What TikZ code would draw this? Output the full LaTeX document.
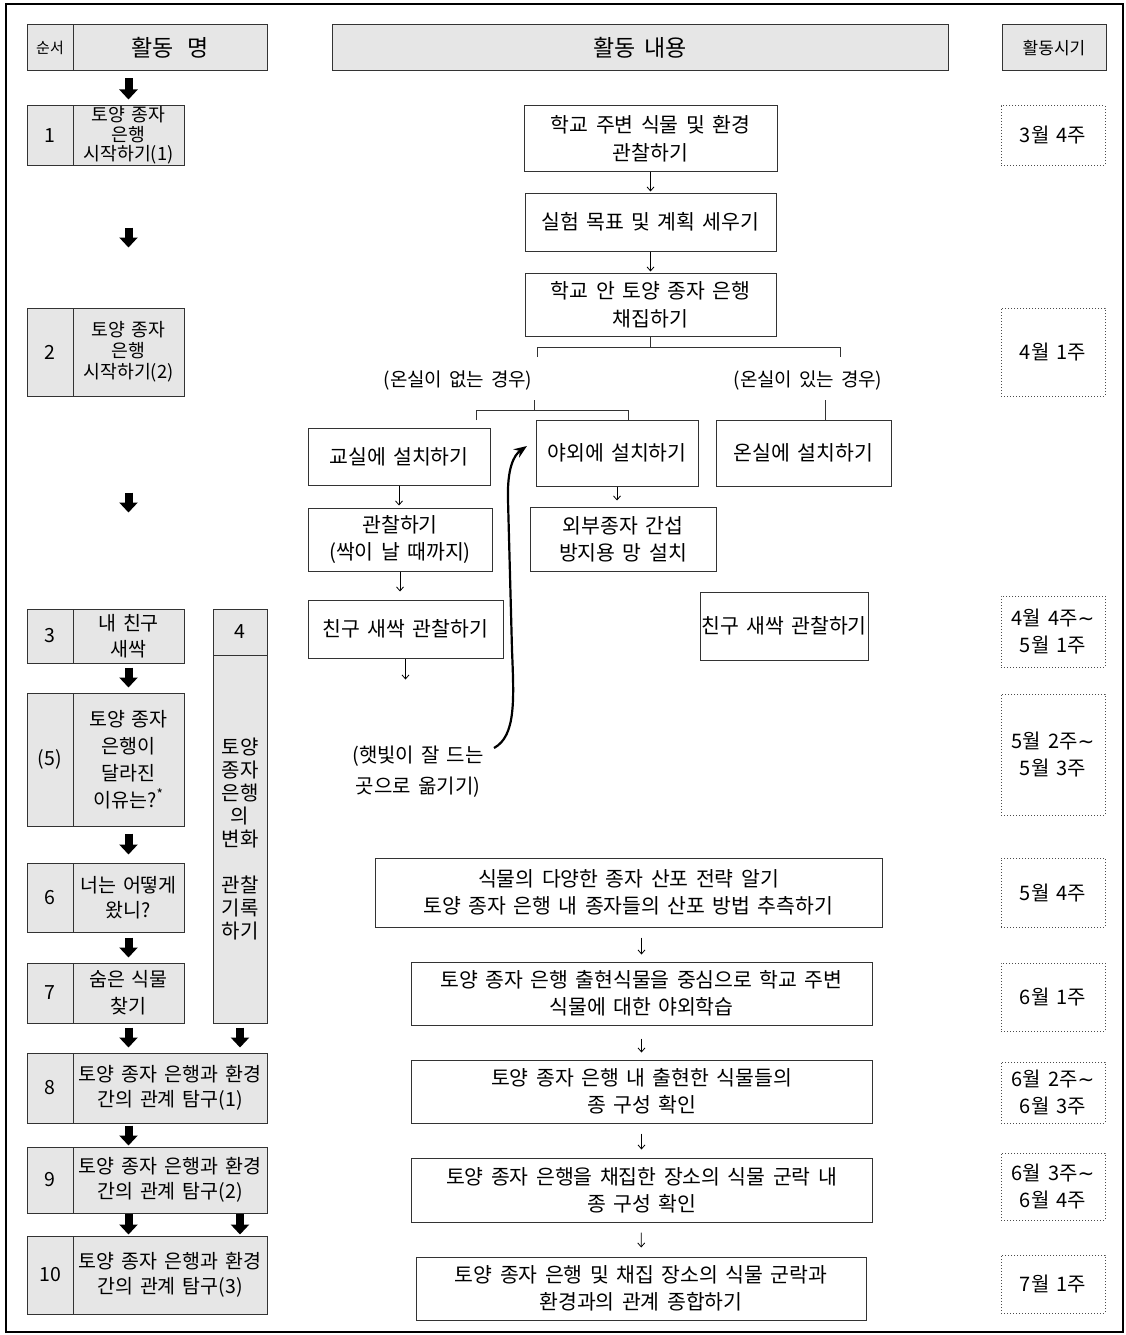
\documentclass[tikz,border=0pt]{standalone}
\usepackage{fontspec}
\setmainfont{Noto Sans CJK KR}[WordSpace=1.6]
\newfontfamily\symf{DejaVu Sans}
\usetikzlibrary{arrows.meta,calc}
\definecolor{cellgray}{RGB}{230,230,230}
\newcommand{\fsz}[2]{\fontsize{#1}{#2}\selectfont}
\newcommand{\wave}{{\symf ∼}}

\begin{document}
\begin{tikzpicture}[x=1pt,y=-1pt,
  cell/.style={draw=black!80,fill=cellgray,line width=1pt,inner sep=0pt,align=center,font=\fsz{19.5}{26}},
  bx/.style={draw=black!80,line width=1pt,inner sep=0pt,align=center,font=\fsz{20.5}{27}},
  dt/.style={draw=black!70,dotted,line width=1pt,inner sep=0pt,align=center,font=\fsz{20}{27},minimum width=104pt},
  blk/.style={line width=8pt,-{Triangle[width=18pt,length=10pt]}},
  thn/.style={line width=0.8pt,-{Straight Barb[length=4pt,width=7pt]}},
  ln/.style={line width=1pt,black!80}]
\useasboundingbox (0,0) rectangle (1126,1335);
\draw[line width=2.5pt] (6,4) rectangle (1123,1332);

% header row
\node[cell,minimum width=46pt,minimum height=46pt,font=\fsz{15}{18}] (n0) at (50,48) {순서};
\node[cell,minimum width=194pt,minimum height=46pt,font=\fsz{23}{26}] (t0) at (170,48) {활동\hspace{5pt} 명};
\node[cell,minimum width=616pt,minimum height=46pt,font=\fsz{23}{26}] (hc) at (640,48) {활동 내용};
\node[cell,minimum width=104pt,minimum height=46pt,font=\fsz{17}{20}] (hd) at (1054,48) {활동시기};

% left column: activity names
\node[cell,minimum width=46pt,minimum height=59pt] (n1) at (50,135.5) {1};
\node[cell,minimum width=111pt,minimum height=59pt,font=\fsz{18.3}{19.5}] (t1) at (128.5,135.5) {토양 종자\\은행\\시작하기(1)};
\node[cell,minimum width=46pt,minimum height=88pt] (n2) at (50,352) {2};
\node[cell,minimum width=111pt,minimum height=88pt,font=\fsz{18.3}{21}] (t2) at (128.5,352) {토양 종자\\은행\\시작하기(2)};
\node[cell,minimum width=46pt,minimum height=54pt] (n3) at (50,636) {3};
\node[cell,minimum width=111pt,minimum height=54pt] (t3) at (128.5,636) {내 친구\\새싹};
\node[cell,minimum width=54pt,minimum height=46pt] (n4) at (240,632) {4};
\node[cell,minimum width=54pt,minimum height=368pt,font=\fsz{20}{23}] (t4) at (240,839) {토양\\종자\\은행\\의\\변화\\[23pt]관찰\\기록\\하기};
\node[cell,minimum width=46pt,minimum height=133pt] (n5) at (50,759.5) {(5)};
\node[cell,minimum width=111pt,minimum height=133pt,font=\fsz{19.5}{27}] (t5) at (128.5,759.5) {토양 종자\\은행이\\달라진\\이유는?\textsuperscript{*}};
\node[cell,minimum width=46pt,minimum height=69pt] (n6) at (50,897.5) {6};
\node[cell,minimum width=111pt,minimum height=69pt,font=\fsz{19.5}{25}] (t6) at (128.5,897.5) {너는 어떻게\\왔니?};
\node[cell,minimum width=46pt,minimum height=60pt] (n7) at (50,993) {7};
\node[cell,minimum width=111pt,minimum height=60pt,font=\fsz{19.5}{27}] (t7) at (128.5,993) {숨은 식물\\찾기};
\node[cell,minimum width=46pt,minimum height=70pt] (n8) at (50,1088) {8};
\node[cell,minimum width=194pt,minimum height=70pt,font=\fsz{19.5}{25}] (t8) at (170,1088) {토양 종자 은행과 환경\\간의 관계 탐구(1)};
\node[cell,minimum width=46pt,minimum height=66pt] (n9) at (50,1180) {9};
\node[cell,minimum width=194pt,minimum height=66pt,font=\fsz{19.5}{25}] (t9) at (170,1180) {토양 종자 은행과 환경\\간의 관계 탐구(2)};
\node[cell,minimum width=46pt,minimum height=78pt] (n10) at (50,1275) {10};
\node[cell,minimum width=194pt,minimum height=78pt,font=\fsz{19.5}{25}] (t10) at (170,1275) {토양 종자 은행과 환경\\간의 관계 탐구(3)};

\draw[blk,shorten <=7pt,shorten >=6pt] (t1.north |- t0.south) -- (t1.north);
\draw[blk,shorten <=62pt,shorten >=60pt] (t1) -- (t2);
\draw[blk,shorten <=96pt,shorten >=96pt] (t2) -- (t3);
\draw[blk,shorten <=4pt,shorten >=5pt] (t3) -- (t5);
\draw[blk,shorten <=7pt,shorten >=8pt] (t5) -- (t6);
\draw[blk,shorten <=5pt,shorten >=5pt] (t6) -- (t7);
\draw[blk,shorten <=4pt,shorten >=5pt] (t7.south) -- (t7.south |- t8.north);
\draw[blk,shorten <=4pt,shorten >=5pt] (t4.south) -- (t4.south |- t8.north);
\draw[blk,shorten <=2pt,shorten >=1pt] (t7.south |- t8.south) -- (t7.south |- t9.north);
\draw[blk,shorten >=1pt] (t7.south |- t9.south) -- (t7.south |- t10.north);
\draw[blk,shorten >=1pt] (t4.south |- t9.south) -- (t4.south |- t10.north);

% middle column: activity contents
\node[bx,minimum width=253pt,minimum height=65pt,font=\fsz{20.5}{28}] (obsA) at (650.5,138.5) {학교 주변 식물 및 환경\\관찰하기};
\node[bx,minimum width=251pt,minimum height=58pt] (plan) at (650.5,222) {실험 목표 및 계획 세우기};
\node[bx,minimum width=251pt,minimum height=63pt,font=\fsz{20.5}{28}] (coll) at (650.5,304.5) {학교 안 토양 종자 은행\\채집하기};
\draw[thn,shorten >=1pt] (obsA) -- (plan);
\draw[thn,shorten >=1pt] (plan) -- (coll);

\node[font=\fsz{19}{26}] (noGH) at (458,381) {(온실이 없는 경우)};
\node[font=\fsz{19}{26}] (yesGH) at (808,381) {(온실이 있는 경우)};
\coordinate (jl) at (537,357);
\coordinate (jr) at (840,357);
\draw[ln] (coll.south) -- ++(0,11);
\draw[ln] (jl) -- ++(0,-10) -| (jr);

\node[bx,minimum width=182pt,minimum height=57pt] (cls) at (399,456.5) {교실에 설치하기};
\node[bx,minimum width=162pt,minimum height=66pt] (out) at (617,453) {야외에 설치하기};
\node[bx,minimum width=175pt,minimum height=66pt] (grn) at (803.5,453) {온실에 설치하기};
\coordinate (ks) at (534,400);
\coordinate (kl) at (476,420);
\coordinate (kr) at (628,420);
\coordinate (rs) at (825,400);
\draw[ln] (ks) -- ++(0,10);
\draw[ln] (kl) -- ++(0,-10) -| (kr);
\draw[ln] (rs) -- (rs |- grn.north);

\node[bx,minimum width=184pt,minimum height=63pt] (see) at (400,539.5) {관찰하기\\(싹이 날 때까지)};
\node[bx,minimum width=195pt,minimum height=58pt] (fr1) at (405.5,629) {친구 새싹 관찰하기};
\node[bx,minimum width=186pt,minimum height=64pt] (net) at (623,539) {외부종자 간섭\\방지용 망 설치};
\node[bx,minimum width=168pt,minimum height=68pt] (fr2) at (784,626) {친구 새싹 관찰하기};
\draw[thn,shorten >=2pt] (cls) -- (cls.south |- see.north);
\draw[thn,shorten >=8pt] (see) -- (see.south |- fr1.north);
\draw[thn] (fr1.south) -- ++(0,21);
\draw[thn,shorten >=6pt] (out) -- (out.south |- net.north);

\node[align=center,font=\fsz{20}{31}] (sun) at (418,772) {(햇빛이 잘 드는\\곳으로 옮기기)};
\coordinate (sunS) at (494,748);
\coordinate (tip) at (527,446);
\draw[line width=2.2pt,-{Stealth[length=13pt,width=10pt]}] (sunS) .. controls (516,736) and (514,700) .. (512,650) -- (508,500) .. controls (507,468) and (514,455) .. (tip);

\node[bx,minimum width=507pt,minimum height=69pt] (disp) at (628.5,892.5) {식물의 다양한 종자 산포 전략 알기\\토양 종자 은행 내 종자들의 산포 방법 추측하기};
\node[bx,minimum width=461pt,minimum height=63pt] (field) at (641.5,993.5) {토양 종자 은행 출현식물을 중심으로 학교 주변\\식물에 대한 야외학습};
\node[bx,minimum width=461pt,minimum height=63pt] (spc) at (641.5,1091.5) {토양 종자 은행 내 출현한 식물들의\\종 구성 확인};
\node[bx,minimum width=461pt,minimum height=64pt] (comm) at (641.5,1190) {토양 종자 은행을 채집한 장소의 식물 군락 내\\종 구성 확인};
\node[bx,minimum width=450pt,minimum height=63pt] (synth) at (641,1288.5) {토양 종자 은행 및 채집 장소의 식물 군락과\\환경과의 관계 종합하기};
\draw[thn,shorten <=10pt,shorten >=7pt] (field.north |- disp.south) -- (field.north);
\draw[thn,shorten <=13pt,shorten >=7pt] (field) -- (spc);
\draw[thn,shorten <=10pt,shorten >=8pt] (spc) -- (comm);
\draw[thn,shorten <=10pt,shorten >=9pt] (comm) -- (synth);

% right column: periods
\node[dt,minimum height=59pt] (d1) at (1053,135.5) {3월 4주};
\node[dt,minimum height=88pt] (d2) at (1053,352) {4월 1주};
\node[dt,minimum height=71pt] (d3) at (1053,631.5) {4월 4주\wave\\5월 1주};
\node[dt,minimum height=121pt] (d4) at (1053,754.5) {5월 2주\wave\\5월 3주};
\node[dt,minimum height=69pt] (d5) at (1053,892.5) {5월 4주};
\node[dt,minimum height=68pt] (d6) at (1053,997) {6월 1주};
\node[dt,minimum height=61pt] (d7) at (1053,1092.5) {6월 2주\wave\\6월 3주};
\node[dt,minimum height=67pt] (d8) at (1053,1186.5) {6월 3주\wave\\6월 4주};
\node[dt,minimum height=58pt] (d9) at (1053,1284) {7월 1주};
\end{tikzpicture}
\end{document}
